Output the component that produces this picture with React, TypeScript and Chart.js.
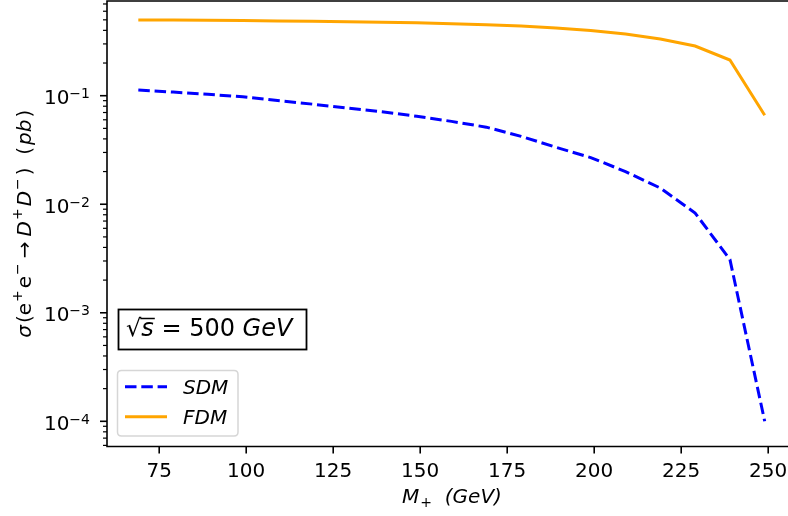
import { useEffect, useRef } from "react";
import { Chart, registerables } from "chart.js";

Chart.register(...registerables);

const massValues = [69, 79, 89, 99, 109, 119, 129, 139, 149, 159, 169, 179, 189, 199, 209, 219, 229, 239, 249];
const sdmValues = [0.113, 0.108, 0.103, 0.0977, 0.0902, 0.0836, 0.077, 0.0711, 0.0646, 0.058, 0.0513, 0.0422, 0.0335, 0.0269, 0.02, 0.0141, 0.0083, 0.0031, 0.0001];
const fdmValues = [0.498, 0.497, 0.495, 0.492, 0.489, 0.485, 0.481, 0.475, 0.469, 0.461, 0.451, 0.438, 0.421, 0.399, 0.37, 0.333, 0.287, 0.213, 0.066];
const seriesLabels = ["SDM", "FDM"];
const xTickValues = [75, 100, 125, 150, 175, 200, 225, 250];
const yTickExponents = [-4, -3, -2, -1];
const sqrtSValue = "500";

const FONT = '"DejaVu Sans"';

type Piece = { t: string; it?: boolean; sup?: boolean; sub?: boolean; gap?: number };

function pieceFont(p: Piece, base: number) {
  const size = p.sup || p.sub ? Math.round(base * 0.7) : base;
  return `${p.it ? "italic " : ""}${size}px ${FONT}`;
}

function measureRich(ctx: CanvasRenderingContext2D, pieces: Piece[], base: number) {
  let w = 0;
  for (const p of pieces) {
    ctx.font = pieceFont(p, base);
    w += ctx.measureText(p.t).width + (p.gap || 0);
  }
  return w;
}

function drawRich(ctx: CanvasRenderingContext2D, pieces: Piece[], x: number, y: number, base: number) {
  let cx = x;
  for (const p of pieces) {
    ctx.font = pieceFont(p, base);
    const dy = p.sup ? -base * 0.42 : p.sub ? base * 0.2 : 0;
    ctx.fillText(p.t, cx, y + dy);
    cx += ctx.measureText(p.t).width + (p.gap || 0);
  }
  return cx;
}

const decorPlugin = {
  id: "decor",
  afterDraw(chart: any) {
    const ctx: CanvasRenderingContext2D = chart.ctx;
    const { left, top, right, bottom } = chart.chartArea;
    const xs = chart.scales.x;
    const ys = chart.scales.y;
    ctx.save();
    ctx.fillStyle = "#000";
    ctx.strokeStyle = "#000";
    ctx.textBaseline = "alphabetic";

    // spines
    ctx.lineWidth = 1.6;
    ctx.beginPath();
    ctx.moveTo(right, top);
    ctx.lineTo(left, top);
    ctx.lineTo(left, bottom);
    ctx.lineTo(right, bottom);
    ctx.stroke();

    // x ticks
    ctx.font = `20px ${FONT}`;
    ctx.textAlign = "center";
    for (const v of xTickValues) {
      const px = xs.getPixelForValue(v);
      ctx.lineWidth = 1.6;
      ctx.beginPath();
      ctx.moveTo(px, bottom);
      ctx.lineTo(px, bottom + 7);
      ctx.stroke();
      ctx.fillText(String(v), px, bottom + 30);
    }

    // y ticks (major + minor)
    for (let e = -6; e <= 1; e++) {
      for (let m = 1; m <= 9; m++) {
        const v = m * Math.pow(10, e);
        if (v < ys.min || v > ys.max) continue;
        const py = ys.getPixelForValue(v);
        ctx.lineWidth = m === 1 ? 1.6 : 1.2;
        ctx.beginPath();
        ctx.moveTo(left, py);
        ctx.lineTo(left - (m === 1 ? 7 : 4), py);
        ctx.stroke();
      }
    }
    ctx.textAlign = "left";
    for (const e of yTickExponents) {
      const py = ys.getPixelForValue(Math.pow(10, e));
      const expText = "\u2212" + Math.abs(e);
      ctx.font = `14px ${FONT}`;
      const w2 = ctx.measureText(expText).width;
      ctx.font = `20px ${FONT}`;
      const w1 = ctx.measureText("10").width;
      const xr = left - 17;
      ctx.fillText("10", xr - w2 - w1, py + 8.5);
      ctx.font = `14px ${FONT}`;
      ctx.fillText(expText, xr - w2, py + 2.5);
    }

    // x label
    const xLabel: Piece[] = [{ t: "M", it: true, gap: 1 }, { t: "+", sub: true }, { t: "  (GeV)", it: true }];
    const xlw = measureRich(ctx, xLabel, 20);
    drawRich(ctx, xLabel, 452 - xlw / 2, 503, 20);

    // y label
    const yLabel: Piece[] = [
      { t: "\u03c3", it: true, gap: 2 },
      { t: "(e", gap: 1 },
      { t: "+", sup: true, gap: 2 },
      { t: "e", gap: 1 },
      { t: "\u2212", sup: true, gap: 5 },
      { t: "\u2192", gap: 5 },
      { t: "D", it: true, gap: 1 },
      { t: "+", sup: true, gap: 2 },
      { t: "D", it: true, gap: 1 },
      { t: "\u2212", sup: true, gap: 3 },
      { t: ")  (", gap: 2 },
      { t: "pb", it: true, gap: 2 },
      { t: ")" },
    ];
    ctx.save();
    ctx.translate(30.5, (top + bottom) / 2);
    ctx.rotate(-Math.PI / 2);
    const ylw = measureRich(ctx, yLabel, 20);
    drawRich(ctx, yLabel, -ylw / 2, 0, 20);
    ctx.restore();

    // sqrt(s) box
    ctx.fillStyle = "#fff";
    ctx.fillRect(118.5, 309.5, 188, 40);
    ctx.lineWidth = 1.8;
    ctx.strokeStyle = "#000";
    ctx.strokeRect(118.5, 309.5, 188, 40);
    ctx.fillStyle = "#000";
    const base = 336;
    ctx.font = `24px ${FONT}`;
    ctx.fillText("\u221a", 126, base);
    let cx = 126 + ctx.measureText("\u221a").width;
    ctx.font = `italic 24px ${FONT}`;
    const sW = ctx.measureText("s").width;
    ctx.fillText("s", cx, base);
    ctx.lineWidth = 1.5;
    ctx.beginPath();
    ctx.moveTo(cx - 1, 318.5);
    ctx.lineTo(cx + sW + 1, 318.5);
    ctx.stroke();
    cx += sW;
    ctx.font = `24px ${FONT}`;
    ctx.fillText(" = " + sqrtSValue + " ", cx, base);
    cx += ctx.measureText(" = " + sqrtSValue + " ").width;
    ctx.font = `italic 24px ${FONT}`;
    ctx.fillText("GeV", cx, base);

    // legend
    const lx = 117.5, ly = 370.5, lw = 120.5, lh = 65.5, r = 4;
    ctx.fillStyle = "rgba(255,255,255,0.8)";
    ctx.strokeStyle = "#d6d6d6";
    ctx.lineWidth = 1.5;
    ctx.beginPath();
    ctx.moveTo(lx + r, ly);
    ctx.lineTo(lx + lw - r, ly);
    ctx.quadraticCurveTo(lx + lw, ly, lx + lw, ly + r);
    ctx.lineTo(lx + lw, ly + lh - r);
    ctx.quadraticCurveTo(lx + lw, ly + lh, lx + lw - r, ly + lh);
    ctx.lineTo(lx + r, ly + lh);
    ctx.quadraticCurveTo(lx, ly + lh, lx, ly + lh - r);
    ctx.lineTo(lx, ly + r);
    ctx.quadraticCurveTo(lx, ly, lx + r, ly);
    ctx.closePath();
    ctx.fill();
    ctx.stroke();
    const rows = [386.7, 416.7];
    chart.data.datasets.forEach((ds: any, i: number) => {
      const y = rows[i];
      ctx.strokeStyle = ds.borderColor;
      ctx.lineWidth = ds.borderWidth;
      ctx.setLineDash(ds.borderDash || []);
      ctx.beginPath();
      ctx.moveTo(125, y);
      ctx.lineTo(167, y);
      ctx.stroke();
      ctx.setLineDash([]);
      ctx.fillStyle = "#000";
      ctx.font = `italic 20px ${FONT}`;
      ctx.fillText(ds.label, 183, y + 6.8);
    });

    ctx.restore();
  },
};

export default function App() {
  const canvasRef = useRef<HTMLCanvasElement | null>(null);

  useEffect(() => {
    if (!canvasRef.current) return;
    const chart = new Chart(canvasRef.current, {
      type: "line",
      data: {
        datasets: [
          {
            label: seriesLabels[0],
            data: massValues.map((m, i) => ({ x: m, y: sdmValues[i] })),
            borderColor: "#0000ff",
            borderWidth: 3,
            borderDash: [11.5, 4.8],
            pointRadius: 0,
            fill: false,
            tension: 0,
          },
          {
            label: seriesLabels[1],
            data: massValues.map((m, i) => ({ x: m, y: fdmValues[i] })),
            borderColor: "#ffa500",
            borderWidth: 3,
            pointRadius: 0,
            fill: false,
            tension: 0,
          },
        ],
      },
      options: {
        animation: false,
        responsive: false,
        devicePixelRatio: 1,
        layout: { padding: { left: 107, top: 1, right: 0, bottom: 69.5 } },
        plugins: { legend: { display: false }, tooltip: { enabled: false } },
        scales: {
          x: { type: "linear", min: 60, max: 255.69, display: false },
          y: { type: "logarithmic", min: 5.86e-5, max: 0.7456, display: false },
        },
      },
      plugins: [decorPlugin],
    });
    return () => chart.destroy();
  }, []);

  return (
    <div style={{ position: "fixed", left: 0, top: 0, width: 788, height: 516, background: "#fff" }}>
      <canvas ref={canvasRef} width={788} height={516} style={{ display: "block" }} />
    </div>
  );
}
